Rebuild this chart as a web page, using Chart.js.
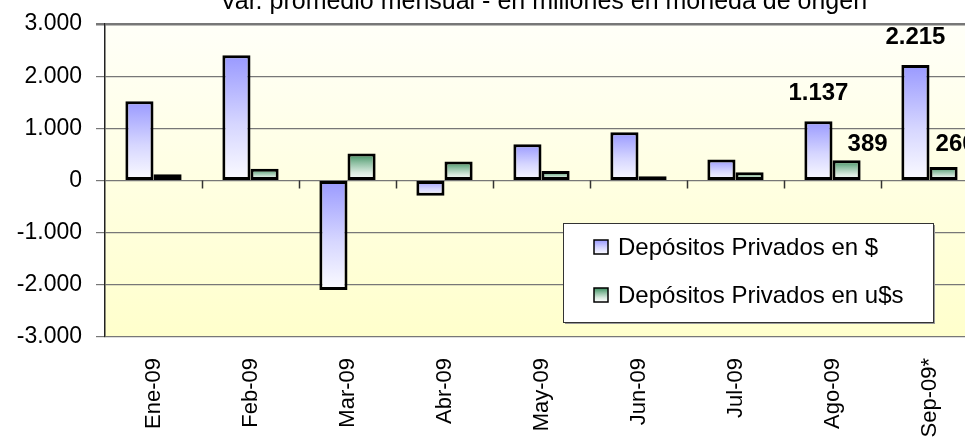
<!DOCTYPE html>
<html>
<head>
<meta charset="utf-8">
<title>Depósitos privados</title>
<script src="https://cdn.jsdelivr.net/npm/chart.js@4/dist/chart.umd.min.js"></script>
<style>
  html, body { margin: 0; padding: 0; background: #fff; overflow: hidden; }
  #wrap { width: 965px; height: 437px; overflow: hidden; }
</style>
</head>
<body>
<div id="wrap"><canvas id="chart" width="990" height="437"></canvas></div>
<script>
// Var. promedio mensual de depósitos privados (millones, moneda de origen)
const meses = ['Ene-09', 'Feb-09', 'Mar-09', 'Abr-09', 'May-09', 'Jun-09', 'Jul-09', 'Ago-09', 'Sep-09*'];
const depPesos = [1520, 2400, -2100, -293, 697, 925, 402, 1137, 2215];
const depDolares = [120, 224, 517, 364, 180, 82, 159, 389, 260];
const seriesNombres = ['Depósitos Privados en $', 'Depósitos Privados en u$s'];
const yMin = -3000;
const yMax = 3000;
const yPaso = 1000;
// meses que llevan etiqueta de valor
const mesesEtiquetados = ['Ago-09', 'Sep-09*'];

const titulo = 'Var. promedio mensual - en millones en moneda de origen';
const fuente = '"Liberation Sans", Arial, sans-serif';

// 1000 -> "1.000"
function formatoMiles(v) {
  const s = Math.abs(v).toString().replace(/\B(?=(\d{3})+(?!\d))/g, '.');
  return (v < 0 ? '-' : '') + s;
}

// gradient from bar top to bar bottom
function barGradient(ctx, top, bottom, stops) {
  const g = ctx.createLinearGradient(0, top, 0, bottom);
  stops.forEach(s => g.addColorStop(s[0], s[1]));
  return g;
}
const azulStops = [[0, '#9999ff'], [0.55, '#d6d6ff'], [1, '#fbfbff']];
const verdeStops = [[0, '#3b8d5e'], [0.35, '#8fc0a3'], [0.7, '#d9eadf'], [1, '#ffffff']];

function scriptedFill(stops) {
  return function(context) {
    const chart = context.chart;
    const y = chart.scales.y;
    if (!chart.chartArea || !y || context.raw === undefined) return stops[0][1];
    const v = context.raw;
    const top = y.getPixelForValue(Math.max(v, 0));
    const bottom = y.getPixelForValue(Math.min(v, 0));
    return barGradient(chart.ctx, top, bottom + 0.01, stops);
  };
}

// yellow plot background
const plotBackground = {
  id: 'plotBackground',
  beforeDraw(chart) {
    const { ctx, chartArea: a } = chart;
    ctx.save();
    const g = ctx.createLinearGradient(0, a.top, 0, a.bottom);
    g.addColorStop(0, '#fffff8');
    g.addColorStop(1, '#ffffcc');
    ctx.fillStyle = g;
    ctx.fillRect(a.left, a.top, a.right - a.left, a.bottom - a.top);
    ctx.restore();
  }
};

// tick marks on the zero line, between categories
const zeroTicks = {
  id: 'zeroTicks',
  afterDatasetsDraw(chart) {
    const { ctx, scales: { x, y } } = chart;
    const y0 = y.getPixelForValue(0);
    const half = (x.getPixelForValue(1) - x.getPixelForValue(0)) / 2;
    ctx.save();
    ctx.strokeStyle = '#333';
    ctx.lineWidth = 1.5;
    for (let i = 1; i < meses.length; i++) {
      const px = Math.round(x.getPixelForValue(i) - half) + 0.5;
      ctx.beginPath();
      ctx.moveTo(px, y0);
      ctx.lineTo(px, y0 + 8);
      ctx.stroke();
    }
    ctx.restore();
  }
};

// value labels for the last months
const valueLabels = {
  id: 'valueLabels',
  afterDatasetsDraw(chart) {
    const ctx = chart.ctx;
    const yLow = chart.scales.y.getPixelForValue(0) - 36;
    ctx.save();
    ctx.font = 'bold 24px ' + fuente;
    ctx.fillStyle = '#000';
    ctx.textBaseline = 'middle';
    ctx.textAlign = 'center';
    chart.data.datasets.forEach((ds, di) => {
      const meta = chart.getDatasetMeta(di);
      meses.forEach((m, i) => {
        if (!mesesEtiquetados.includes(m)) return;
        const bar = meta.data[i];
        const txt = formatoMiles(ds.data[i]);
        if (di === 0) {
          ctx.fillText(txt, bar.x, bar.y - 28);
        } else {
          // u$s labels sit up and to the right of the bar
          const dx = i === 7 ? 21 : 12;
          ctx.fillText(txt, bar.x + dx, yLow);
        }
      });
    });
    ctx.restore();
  }
};

// boxed legend inside the plot
const boxLegend = {
  id: 'boxLegend',
  afterDraw(chart) {
    const { ctx, chartArea: a } = chart;
    const w = 370, h = 99;
    const left = a.right - 45 - w;
    const top = a.top + 199;
    ctx.save();
    ctx.fillStyle = '#999';
    ctx.fillRect(left + 2, top + 2, w, h);
    ctx.fillStyle = '#fff';
    ctx.fillRect(left, top, w, h);
    ctx.strokeStyle = '#333';
    ctx.lineWidth = 1;
    ctx.strokeRect(left + 0.5, top + 0.5, w, h);
    ctx.font = '24px ' + fuente;
    ctx.textBaseline = 'middle';
    ctx.textAlign = 'left';
    chart.data.datasets.forEach((ds, i) => {
      const cy = top + 24 + i * 48;
      const stops = i === 0 ? azulStops : verdeStops;
      ctx.fillStyle = barGradient(ctx, cy - 7, cy + 7, stops);
      ctx.fillRect(left + 31, cy - 7, 14, 14);
      ctx.strokeStyle = '#000';
      ctx.lineWidth = 1.5;
      ctx.strokeRect(left + 31, cy - 7, 14, 14);
      ctx.fillStyle = '#000';
      ctx.fillText(ds.label, left + 55, cy + 1);
    });
    ctx.restore();
  }
};

// title, partly cut by the top edge
const topTitle = {
  id: 'topTitle',
  afterDraw(chart) {
    const { ctx, chartArea: a } = chart;
    ctx.save();
    ctx.font = '25px ' + fuente;
    ctx.fillStyle = '#000';
    ctx.textAlign = 'center';
    ctx.textBaseline = 'alphabetic';
    ctx.fillText(titulo, (a.left + a.right) / 2 + 2, 9);
    ctx.restore();
  }
};

new Chart(document.getElementById('chart'), {
  type: 'bar',
  data: {
    labels: meses,
    datasets: [
      {
        label: seriesNombres[0],
        data: depPesos,
        backgroundColor: scriptedFill(azulStops),
        borderColor: '#000',
        borderWidth: 3,
        borderSkipped: false
      },
      {
        label: seriesNombres[1],
        data: depDolares,
        backgroundColor: scriptedFill(verdeStops),
        borderColor: '#000',
        borderWidth: 3,
        borderSkipped: false
      }
    ]
  },
  options: {
    responsive: false,
    animation: false,
    devicePixelRatio: 1,
    layout: { padding: { top: 24, right: 12, left: 0, bottom: 0 } },
    datasets: {
      bar: { barPercentage: 1, categoryPercentage: 0.58 }
    },
    scales: {
      x: {
        grid: { display: false },
        border: { display: false },
        ticks: {
          color: '#000',
          font: { family: fuente, size: 22 },
          minRotation: 90,
          maxRotation: 90,
          padding: 13,
          autoSkip: false
        },
        afterFit(scale) { scale.height = 100; }
      },
      y: {
        min: yMin,
        max: yMax,
        grid: {
          color: '#777',
          lineWidth: ctx => (ctx.tick && ctx.tick.value === yMax ? 2.5 : 1.2),
          tickLength: 9
        },
        border: { color: '#222', width: 1.5 },
        ticks: {
          stepSize: yPaso,
          color: '#000',
          padding: 14,
          font: { family: fuente, size: 23 },
          callback: v => formatoMiles(v)
        },
        afterFit(scale) {
          scale.width = 105;
          // tick padding would otherwise push the plot down
          scale.paddingTop = 0;
          scale.paddingBottom = 0;
        }
      }
    },
    plugins: {
      legend: { display: false },
      title: { display: false },
      tooltip: { enabled: false }
    }
  },
  plugins: [plotBackground, zeroTicks, valueLabels, boxLegend, topTitle]
});
</script>
</body>
</html>
